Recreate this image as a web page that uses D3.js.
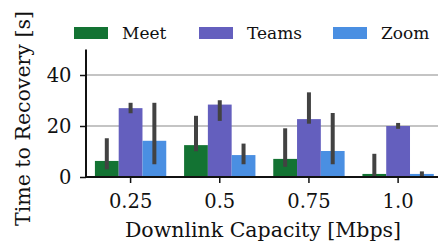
<!DOCTYPE html>
<html>
<head>
<meta charset="utf-8">
<script src="https://cdn.jsdelivr.net/npm/d3@7"></script>
<style>
  body { margin: 0; background: #fff; }
  svg { display: block; font-family: "DejaVu Serif", serif; }
</style>
</head>
<body>
<div id="chart"></div>
<script>
// capacity levels on the x axis
var capacities = ["0.25", "0.5", "0.75", "1.0"];
var apps = ["Meet", "Teams", "Zoom"];
var colors = ["#137333", "#645fbe", "#4a8fe2"];

// mean time to recovery (s), per app, one value per capacity
var meetMean = [6.3, 12.5, 7.1, 1.2];
var teamsMean = [27.0, 28.4, 22.7, 20.0];
var zoomMean = [14.2, 8.6, 10.2, 1.2];

// confidence interval low / high
var meetLow = [3.0, 10.1, 4.0, 0.0];
var meetHigh = [15.2, 24.0, 19.1, 9.1];
var teamsLow = [25.0, 22.0, 20.9, 18.9];
var teamsHigh = [29.1, 30.1, 33.2, 21.2];
var zoomLow = [5.0, 5.0, 5.0, 0.4];
var zoomHigh = [29.1, 13.1, 25.1, 2.2];

var yTicks = [0, 20, 40];

var means = [meetMean, teamsMean, zoomMean];
var lows = [meetLow, teamsLow, zoomLow];
var highs = [meetHigh, teamsHigh, zoomHigh];

var width = 438, height = 245;
var margin = {left: 86, top: 49.5, bottom: 68};
var plotRight = 442.7;

var svg = d3.select("#chart").append("svg")
    .attr("width", width)
    .attr("height", height);

var x = d3.scaleBand()
    .domain(capacities)
    .range([margin.left, plotRight])
    .paddingInner(0.2)
    .paddingOuter(0.1);

var xInner = d3.scaleBand()
    .domain(apps)
    .range([0, x.bandwidth()]);

var y = d3.scaleLinear()
    .domain([0, 50])
    .range([height - margin.bottom, margin.top]);

// gridlines
svg.append("g")
  .selectAll("line")
  .data(yTicks.filter(function(d) { return d > 0; }))
  .enter().append("line")
    .attr("x1", margin.left)
    .attr("x2", plotRight)
    .attr("y1", function(d) { return y(d); })
    .attr("y2", function(d) { return y(d); })
    .attr("stroke", "#b0b0b0")
    .attr("stroke-width", 1.5);

var rows = [];
apps.forEach(function(a, i) {
  capacities.forEach(function(c, j) {
    rows.push({app: a, cap: c, idx: i, mean: means[i][j], lo: lows[i][j], hi: highs[i][j]});
  });
});

svg.append("g")
  .selectAll("rect")
  .data(rows)
  .enter().append("rect")
    .attr("x", function(d) { return x(d.cap) + xInner(d.app); })
    .attr("y", function(d) { return y(d.mean); })
    .attr("width", xInner.bandwidth())
    .attr("height", function(d) { return y(0) - y(d.mean); })
    .attr("fill", function(d) { return colors[d.idx]; });

svg.append("g")
  .selectAll("line")
  .data(rows)
  .enter().append("line")
    .attr("x1", function(d) { return x(d.cap) + xInner(d.app) + xInner.bandwidth() / 2; })
    .attr("x2", function(d) { return x(d.cap) + xInner(d.app) + xInner.bandwidth() / 2; })
    .attr("y1", function(d) { return y(d.lo); })
    .attr("y2", function(d) { return y(d.hi); })
    .attr("stroke", "#424242")
    .attr("stroke-width", 4);

// axes
var xAxis = svg.append("g")
    .attr("transform", "translate(0," + y(0) + ")")
    .call(d3.axisBottom(x).tickSize(6).tickPadding(11));
var yAxis = svg.append("g")
    .attr("transform", "translate(" + margin.left + ",0)")
    .call(d3.axisLeft(y).tickValues(yTicks).tickSize(6).tickPadding(8.5));

[xAxis, yAxis].forEach(function(g) {
  g.select(".domain").attr("stroke", "#111").attr("stroke-width", 2);
  g.selectAll(".tick line").attr("stroke", "#111").attr("stroke-width", 1.5);
  g.selectAll("text").attr("font-family", "DejaVu Serif").attr("font-size", 19.5).attr("fill", "#111");
});
xAxis.select(".domain").attr("d", "M" + margin.left + ",0H" + plotRight);
yAxis.select(".domain").attr("d", "M0," + y(0) + "V" + margin.top);

svg.append("text")
    .attr("x", 263)
    .attr("y", 236.5)
    .attr("text-anchor", "middle")
    .attr("font-size", 20.5)
    .attr("fill", "#111")
    .text("Downlink Capacity [Mbps]");

svg.append("text")
    .attr("transform", "translate(30,118.5) rotate(-90)")
    .attr("text-anchor", "middle")
    .attr("font-size", 20.5)
    .attr("fill", "#111")
    .text("Time to Recovery [s]");

// legend
var legendX = [74, 199, 333];
var legend = svg.append("g");
apps.forEach(function(a, i) {
  legend.append("rect")
    .attr("x", legendX[i])
    .attr("y", 27)
    .attr("width", 34)
    .attr("height", 12)
    .attr("fill", colors[i]);
  legend.append("text")
    .attr("x", legendX[i] + 48)
    .attr("y", 39)
    .attr("font-size", 17)
    .attr("fill", "#111")
    .text(a);
});
</script>
</body>
</html>
